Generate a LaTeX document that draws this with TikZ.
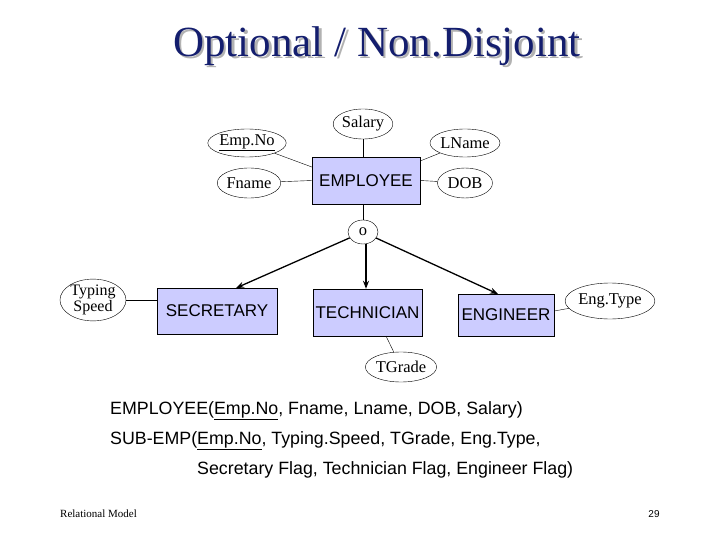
\documentclass[tikz,border=0pt]{standalone}
\usepackage{fontspec}
\setmainfont{Liberation Serif}
\setsansfont{Liberation Sans}
\usetikzlibrary{shapes.geometric,arrows.meta}
\definecolor{boxfill}{RGB}{204,204,255}
\definecolor{titleblue}{RGB}{20,30,110}
\begin{document}
\begin{tikzpicture}[x=1pt,y=-1pt,
  ent/.style={draw,fill=boxfill,font=\sffamily\fontsize{17}{17}\selectfont,inner sep=0pt},
  attr/.style={draw,ellipse,inner sep=0pt,font=\fontsize{16.5}{16.5}\selectfont},
  con/.style={draw,line width=0.4pt},
  isa/.style={draw,line width=1.3pt,-{Stealth[length=8pt,width=6pt]}}]
\useasboundingbox (0,0) rectangle (720,540);
\node[font=\fontsize{43}{43}\selectfont,text=titleblue] (title) at (377,47) {\rlap{\raisebox{-2.5pt}{\kern2.5pt\textcolor{gray!60}{Optional / Non.Disjoint}}}Optional / Non.Disjoint};
% entities
\node[ent,minimum width=108,minimum height=47] (emp) at (366,180.5) {EMPLOYEE};
\node[ent,minimum width=120,minimum height=46] (sec) at (217,311) {SECRETARY};
\node[ent,minimum width=109,minimum height=47] (tec) at (367.5,312.5) {TECHNICIAN};
\node[ent,minimum width=96,minimum height=42] (eng) at (506,315) {ENGINEER};
% attributes
\node[attr,minimum width=54,minimum height=30] (sal) at (363,124) {Salary};
\node[attr,minimum width=60,minimum height=28] (eno) at (247,143) {\underline{Emp.No}};
\node[attr,minimum width=56,minimum height=30] (fn) at (249,183) {Fname};
\node[attr,minimum width=55,minimum height=28] (ln) at (465,143) {LName};
\node[attr,minimum width=55,minimum height=30] (dob) at (465,183) {DOB};
\node[attr,minimum width=30,minimum height=24] (o) at (363,232) {o};
\node[attr,minimum width=66,minimum height=34,align=center,font=\fontsize{16}{12}\selectfont] (ts) at (93,300) {Typing\\Speed};
\node[attr,minimum width=66,minimum height=36] (et) at (610,301) {Eng.Type};
\node[attr,minimum width=64,minimum height=30] (tg) at (401,367) {TGrade};
% connectors
\draw[con] (sal) -- (sal|-emp.north);
\draw[con] (eno) -- (emp.north west |- 0,167);
\draw[con] (fn) -- (emp.west);
\draw[con] (ln) -- (emp.north east |- 0,161);
\draw[con] (dob) -- (emp.east);
\draw[con] (emp.south -| o) -- (o);
\draw[con] (ts.east) -- (sec.west |- ts.east);
\draw[con] (eng.east |- 0,311) -- (et);
\draw[con] (386,336) coordinate (tb) -- (tg);
\draw[isa] (o) -- (236,288) coordinate (sa);
\draw[isa] (o.south -| 366,0) -- (tec.north -| 366,0);
\draw[isa] (o) -- (498,294) coordinate (ea);
% text
\begin{scope}[every node/.style={anchor=west,font=\sffamily\fontsize{17.8}{17.8}\selectfont,inner sep=0pt}]
\node (l1) at (110,411) {EMPLOYEE(\underline{Emp.No}, Fname, Lname, DOB, Salary)};
\node (l2) at (110,441) {SUB-EMP(\underline{Emp.No}, Typing.Speed, TGrade, Eng.Type,};
\node (l3) at (197,470) {Secretary Flag, Technician Flag, Engineer Flag)};
\end{scope}
\node[anchor=west,font=\fontsize{11}{11}\selectfont,inner sep=0pt] (foot) at (60,514) {Relational Model};
\node[font=\sffamily\fontsize{10}{10}\selectfont,inner sep=0pt] (pg) at (654,514) {29};
\end{tikzpicture}
\end{document}
